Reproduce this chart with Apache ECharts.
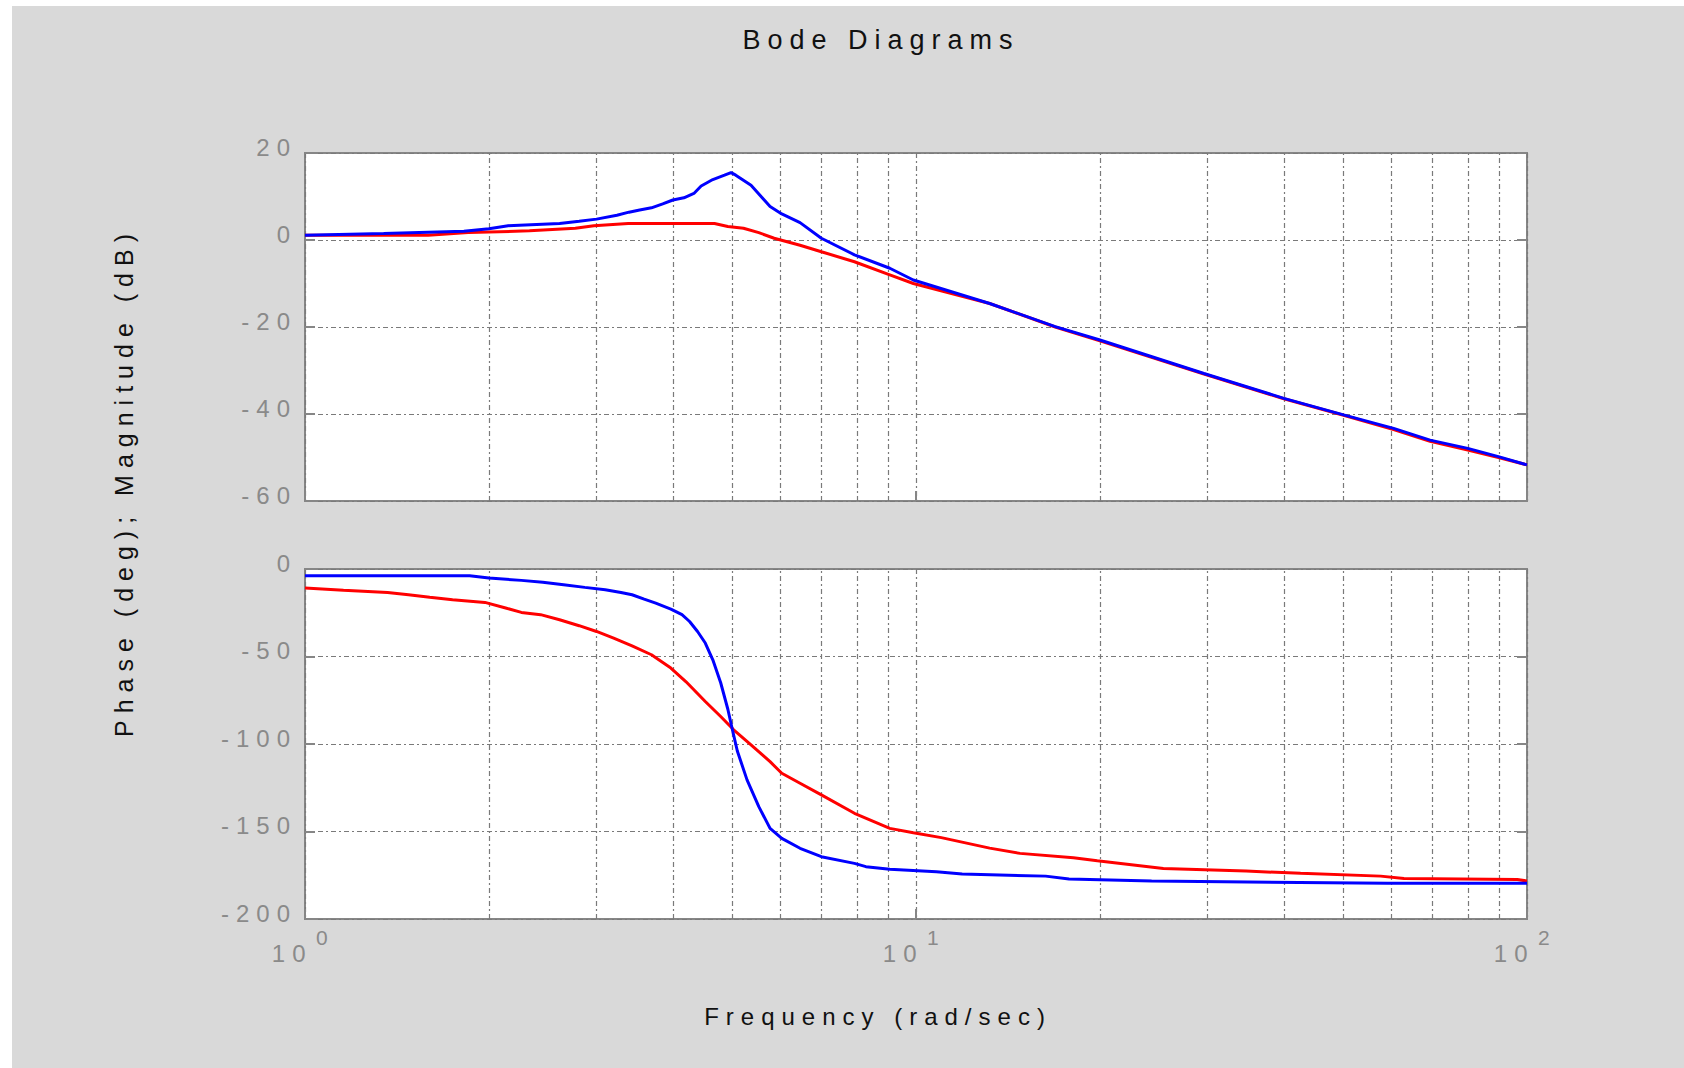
<!DOCTYPE html>
<html>
<head>
<meta charset="utf-8">
<script src="https://cdn.jsdelivr.net/npm/echarts@6/dist/echarts.min.js"></script>
<style>
  html, body { margin: 0; padding: 0; background: #ffffff; }
  #bg { position: absolute; left: 12px; top: 6px; right: 0; bottom: 0; background: #d9d9d9; }
  #chart { position: absolute; left: 0; top: 0; width: 1684px; height: 1068px; }
  #chart text { letter-spacing: 7px; }
</style>
</head>
<body>
<div id="bg"></div>
<div id="chart"></div>
<script>
// ---------- data ----------
const titleText = 'Bode Diagrams';
const xName = 'Frequency (rad/sec)';
const yName = 'Phase (deg); Magnitude (dB)';

const magTicks = [-60, -40, -20, 0, 20];
const phaseTicks = [-200, -150, -100, -50, 0];
const minorFreqs = [2, 3, 4, 5, 6, 7, 8, 9, 20, 30, 40, 50, 60, 70, 80, 90];

const magBlueFreq = [1.0, 1.345, 1.82, 2.0, 2.15, 2.61, 2.81, 3.0, 3.24, 3.39, 3.53, 3.69, 3.85, 4.0, 4.17, 4.33, 4.45, 4.65, 4.86, 4.98, 5.07, 5.37, 5.77, 6.03, 6.46, 7.0, 7.93, 9.06, 9.9, 13.2, 16.9, 20.0, 29.6, 40.0, 50.1, 60.5, 69.4, 80.0, 89.8, 100];
const magBlueDb   = [1.1, 1.5, 2.0, 2.6, 3.3, 3.8, 4.3, 4.8, 5.7, 6.4, 6.9, 7.4, 8.3, 9.2, 9.7, 10.7, 12.4, 13.9, 14.9, 15.5, 14.9, 12.6, 7.7, 6.0, 4.0, 0.4, -3.4, -6.5, -9.2, -14.6, -19.9, -23.0, -30.7, -36.4, -40.2, -43.3, -46.0, -47.9, -49.8, -51.7];

const magRedFreq = [1.0, 1.59, 1.85, 2.33, 2.77, 2.97, 3.38, 4.68, 4.92, 5.22, 5.53, 5.86, 6.46, 7.0, 7.93, 9.06, 9.9, 13.2, 16.9, 20.0, 29.6, 40.0, 50.1, 60.5, 69.4, 80.0, 89.8, 100];
const magRedDb   = [1.1, 1.1, 1.7, 2.1, 2.7, 3.3, 3.8, 3.8, 3.1, 2.7, 1.7, 0.4, -1.2, -2.7, -5.0, -8.0, -10.0, -14.6, -20.0, -23.2, -30.8, -36.5, -40.3, -43.6, -46.3, -48.3, -50.0, -51.7];

const phBlueFreq = [1.0, 1.86, 2.0, 2.26, 2.45, 2.65, 2.87, 3.1, 3.29, 3.43, 3.59, 3.75, 3.97, 4.14, 4.26, 4.39, 4.52, 4.65, 4.79, 4.92, 5.0, 5.1, 5.29, 5.53, 5.77, 6.03, 6.46, 7.0, 7.93, 8.28, 9.06, 10.8, 11.9, 16.3, 17.8, 24.3, 59.1, 100];
const phBlueDeg  = [-3.8, -3.8, -5.2, -6.5, -7.6, -9.0, -10.5, -11.8, -13.4, -14.7, -17.2, -19.5, -22.9, -26.1, -30.0, -35.7, -42.3, -51.9, -65.0, -80.0, -91.0, -104.0, -120.5, -135.8, -148.2, -153.9, -159.6, -164.4, -168.2, -170.1, -171.6, -173.0, -174.3, -175.5, -177.2, -178.3, -179.6, -179.6];

const phRedFreq = [1.0, 1.156, 1.365, 1.477, 1.6, 1.744, 1.97, 2.13, 2.26, 2.43, 2.61, 2.81, 3.0, 3.2, 3.43, 3.69, 3.97, 4.2, 4.52, 4.79, 5.03, 5.37, 5.77, 6.03, 6.46, 7.0, 7.93, 9.06, 9.9, 11.0, 13.2, 14.8, 18.1, 19.8, 25.4, 34.7, 42.6, 57.6, 62.9, 96.4, 100];
const phRedDeg  = [-10.9, -12.2, -13.4, -14.7, -16.2, -17.6, -19.1, -22.3, -24.8, -26.1, -29.0, -32.4, -35.7, -39.5, -43.9, -49.0, -56.6, -64.3, -75.7, -84.3, -91.9, -100.5, -110.1, -116.7, -122.4, -129.1, -139.6, -148.2, -150.7, -153.5, -159.5, -162.5, -165.0, -166.7, -171.1, -172.6, -173.9, -175.5, -176.8, -177.4, -178.3];

// ---------- chart ----------
const zip = (xs, ys) => xs.map((x, i) => [x, ys[i]]);
const FONT = 'Liberation Sans';
const FRAME = '#868686';
const GRIDLINE = { color: '#7a7a7a', width: 1.2, type: [5, 3, 2, 3] };
const TICKCOL = '#8a8a8a';

const grids = [
  { left: 305, top: 153, width: 1222, height: 348 },
  { left: 305, top: 569, width: 1222, height: 350 }
].map(g => Object.assign(g, { show: true, backgroundColor: '#ffffff', borderColor: FRAME, borderWidth: 2, z: 0 }));

function makeX(gi, showLabels) {
  return {
    gridIndex: gi, type: 'log', logBase: 10, min: 1, max: 100,
    axisLine: { show: false, onZero: false },
    axisTick: { show: true, inside: true, length: 10, lineStyle: { color: FRAME, width: 2 } },
    splitLine: { show: true, lineStyle: GRIDLINE },
    axisLabel: {
      show: showLabels, margin: 6, color: TICKCOL,
      formatter: v => '{b|10}{s|' + Math.round(Math.log10(v)) + '}',
      rich: {
        b: { fontSize: 24, fontFamily: FONT, color: TICKCOL, padding: [16, 0, 0, 0] },
        s: { fontSize: 21, fontFamily: FONT, color: TICKCOL, padding: [0, 0, 16, 14] }
      }
    }
  };
}
function makeY(gi, ticks, side) {
  const left = side === 'left';
  return {
    gridIndex: gi, type: 'value', position: side,
    min: ticks[0], max: ticks[ticks.length - 1], interval: ticks[1] - ticks[0],
    axisLine: { show: false, onZero: false },
    axisTick: { show: true, inside: true, length: 10, lineStyle: { color: FRAME, width: 2 } },
    splitLine: { show: left, lineStyle: GRIDLINE },
    axisLabel: { show: left, margin: 8, color: TICKCOL, fontSize: 24, fontFamily: FONT, verticalAlign: 'bottom', lineHeight: 12 }
  };
}

function minorLines() {
  return {
    silent: true, symbol: 'none', z: 1, animation: false,
    label: { show: false },
    lineStyle: GRIDLINE,
    emphasis: { disabled: true },
    data: minorFreqs.map(v => ({ xAxis: v }))
  };
}

function lineSeries(name, xi, yi, data, color, withGrid) {
  const s = {
    name, type: 'line', xAxisIndex: xi, yAxisIndex: yi, data,
    symbol: 'none', smooth: false, z: 3, clip: true,
    lineStyle: { color, width: 3 }, itemStyle: { color },
    emphasis: { disabled: true }
  };
  if (withGrid) s.markLine = minorLines();
  return s;
}

const option = {
  animation: false,
  backgroundColor: 'transparent',
  grid: grids,
  xAxis: [makeX(0, false), makeX(1, true)],
  yAxis: [makeY(0, magTicks, 'left'), makeY(1, phaseTicks, 'left'), makeY(0, magTicks, 'right'), makeY(1, phaseTicks, 'right')],
  series: [
    lineSeries('Magnitude (red)', 0, 0, zip(magRedFreq, magRedDb), '#ff0000', true),
    lineSeries('Magnitude (blue)', 0, 0, zip(magBlueFreq, magBlueDb), '#0000ff', false),
    lineSeries('Phase (red)', 1, 1, zip(phRedFreq, phRedDeg), '#ff0000', true),
    lineSeries('Phase (blue)', 1, 1, zip(phBlueFreq, phBlueDeg), '#0000ff', false)
  ],
  graphic: [
    { type: 'text', x: 881, y: 40, style: { text: titleText, fontSize: 27, fontFamily: FONT, fill: '#111111', align: 'center', verticalAlign: 'middle' } },
    { type: 'text', x: 878, y: 1016, style: { text: xName, fontSize: 24, fontFamily: FONT, fill: '#111111', align: 'center', verticalAlign: 'middle' } },
    { type: 'text', x: 124, y: 482, rotation: Math.PI / 2, style: { text: yName, fontSize: 25, fontFamily: FONT, fill: '#111111', align: 'center', verticalAlign: 'middle' } }
  ]
};

const chart = echarts.init(document.getElementById('chart'), null, { renderer: 'svg', width: 1684, height: 1068 });
chart.setOption(option);
</script>
</body>
</html>
